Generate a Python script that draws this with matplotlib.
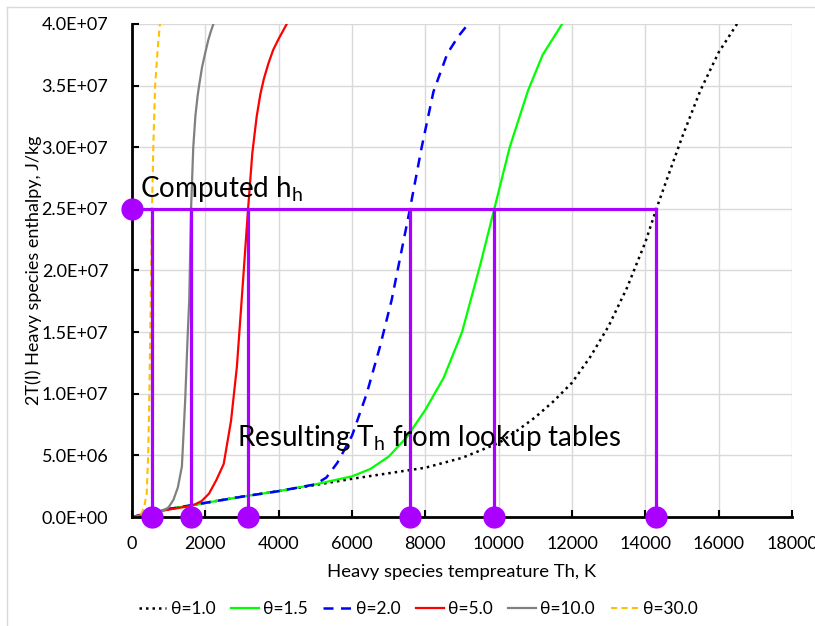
import matplotlib
matplotlib.use("Agg")
import matplotlib.pyplot as plt
from matplotlib.lines import Line2D
from matplotlib.ticker import FuncFormatter, MultipleLocator

plt.rcParams["font.family"] = ["Lato", "DejaVu Sans"]

# Enthalpy curves (T in K, h in J/kg) for each theta
t_10 = [0, 500, 1000, 1500, 2000, 3000, 4000, 5000, 6000, 7000, 8000, 9000, 10000,
        10500, 11000, 11500, 12000, 12500, 13000, 13500, 14000, 14300, 14600, 15000,
        15500, 16000, 16500]
h_10 = [0, 0.35e6, 0.65e6, 0.9e6, 1.15e6, 1.65e6, 2.1e6, 2.6e6, 3.1e6, 3.55e6, 4.0e6,
        4.8e6, 6.0e6, 7.0e6, 8.1e6, 9.4e6, 10.9e6, 13.0e6, 15.5e6, 18.6e6, 22.3e6, 25e6,
        27.5e6, 30.8e6, 34.6e6, 37.7e6, 40.0e6]

t_15 = [0, 500, 1000, 1500, 2000, 3000, 4000, 5000, 6000, 6500, 7000, 7500, 8000,
        8500, 9000, 9500, 9880, 10300, 10800, 11200, 11730]
h_15 = [0, 0.35e6, 0.65e6, 0.9e6, 1.15e6, 1.65e6, 2.1e6, 2.65e6, 3.3e6, 3.9e6, 4.9e6,
        6.5e6, 8.7e6, 11.3e6, 15.0e6, 20.5e6, 25e6, 30e6, 34.6e6, 37.5e6, 40e6]

t_20 = [0, 500, 1000, 1500, 2000, 3000, 4000, 5000, 5300, 5600, 6000, 6400, 6760,
        7080, 7310, 7580, 7900, 8220, 8600, 8900, 9170]
h_20 = [0, 0.35e6, 0.65e6, 0.9e6, 1.15e6, 1.65e6, 2.1e6, 2.65e6, 3.2e6, 4.4e6, 6.6e6,
        10.0e6, 13.8e6, 17.6e6, 21.0e6, 25e6, 30e6, 34.5e6, 37.6e6, 39.0e6, 40e6]

t_50 = [0, 500, 1000, 1500, 1700, 1900, 2100, 2300, 2500, 2700, 2860, 2990, 3165,
        3280, 3400, 3500, 3600, 3720, 3850, 4000, 4220]
h_50 = [0, 0.35e6, 0.6e6, 0.85e6, 1.0e6, 1.3e6, 1.9e6, 3.0e6, 4.3e6, 7.8e6, 12.2e6,
        17.6e6, 25e6, 29.5e6, 32.5e6, 34.3e6, 35.6e6, 36.8e6, 37.9e6, 38.8e6, 40e6]

t_100 = [0, 500, 850, 1000, 1130, 1250, 1360, 1450, 1520, 1560, 1610, 1670, 1730,
         1790, 1840, 1910, 2000, 2080, 2150, 2220]
h_100 = [0, 0.25e6, 0.5e6, 0.8e6, 1.4e6, 2.4e6, 4.1e6, 9.5e6, 14.9e6, 17.6e6, 25e6,
         30e6, 32.6e6, 34.2e6, 35.2e6, 36.5e6, 37.7e6, 38.7e6, 39.4e6, 40e6]

t_300 = [0, 220, 330, 400, 440, 470, 510, 545, 580, 630, 700, 760]
h_300 = [0, 0, 0.8e6, 1.9e6, 5e6, 9.5e6, 17.6e6, 25e6, 30e6, 35e6, 38e6, 40e6]

# Computed enthalpy and the temperatures read back from the tables
h_computed = 25e6
t_lookup = [545, 1610, 3165, 7580, 9880, 14300]

fig = plt.figure(figsize=(8.15, 6.26), dpi=100)
ax = fig.add_axes([0.162, 0.1741, 0.8098, 0.7876])

ax.plot(t_10, h_10, color="black", lw=1.8, ls=(0, (1, 1.6)), label="θ=1.0")
ax.plot(t_15, h_15, color="#00ff00", lw=1.6, label="θ=1.5")
ax.plot(t_20, h_20, color="#0000ff", lw=1.8, ls=(0, (4, 3)), label="θ=2.0")
ax.plot(t_50, h_50, color="#ff0000", lw=1.6, label="θ=5.0")
ax.plot(t_100, h_100, color="#808080", lw=1.6, label="θ=10.0")
ax.plot(t_300, h_300, color="#ffc000", lw=1.5, ls=(0, (3, 2)), label="θ=30.0")

purple = "#aa00ff"
ax.plot([0, max(t_lookup)], [h_computed, h_computed], color=purple, lw=2.3, zorder=4)
for t in t_lookup:
    ax.plot([t, t], [0, h_computed], color=purple, lw=2.3, zorder=4)
ax.plot([0], [h_computed], "o", color=purple, ms=15, zorder=6, clip_on=False)
ax.plot(t_lookup, [0] * len(t_lookup), "o", color=purple, ms=15, zorder=6, clip_on=False)

ax.text(220, 26.0e6, r"Computed h$_\mathregular{h}$", fontsize=20, zorder=7)
ax.text(2860, 5.76e6, r"Resulting T$_\mathregular{h}$ from lookup tables", fontsize=20, zorder=7)

ax.set_xlim(0, 18000)
ax.set_ylim(0, 4e7)
ax.xaxis.set_major_locator(MultipleLocator(2000))
ax.yaxis.set_major_locator(MultipleLocator(5e6))
ax.yaxis.set_major_formatter(FuncFormatter(lambda v, p: f"{v:.1E}"))
ax.tick_params(direction="in", length=5, width=1.5, labelsize=13)
ax.tick_params(axis="x", pad=14)
ax.tick_params(axis="y", pad=17)
ax.grid(True, color="#d9d9d9", lw=1)
ax.set_axisbelow(True)
for s in ["top", "right"]:
    ax.spines[s].set_visible(False)
for s in ["left", "bottom"]:
    ax.spines[s].set_linewidth(2)

ax.set_xlabel("Heavy species tempreature Th, K", fontsize=13.3, labelpad=8)
ax.set_ylabel("2T(I) Heavy species enthalpy, J/kg", fontsize=13, labelpad=0)

fig.legend(*ax.get_legend_handles_labels(), loc="center", bbox_to_anchor=(0.513, 0.027),
           ncol=6, frameon=False, fontsize=12.5, handlelength=1.6, columnspacing=0.9,
           handletextpad=0.25)

# chart area border
fig.add_artist(Line2D([7 / 815, 7 / 815], [0, 1 - 7 / 626], color="#d9d9d9", lw=1))
fig.add_artist(Line2D([7 / 815, 1], [1 - 7 / 626, 1 - 7 / 626], color="#d9d9d9", lw=1))

fig.savefig("out.png", dpi=100)
